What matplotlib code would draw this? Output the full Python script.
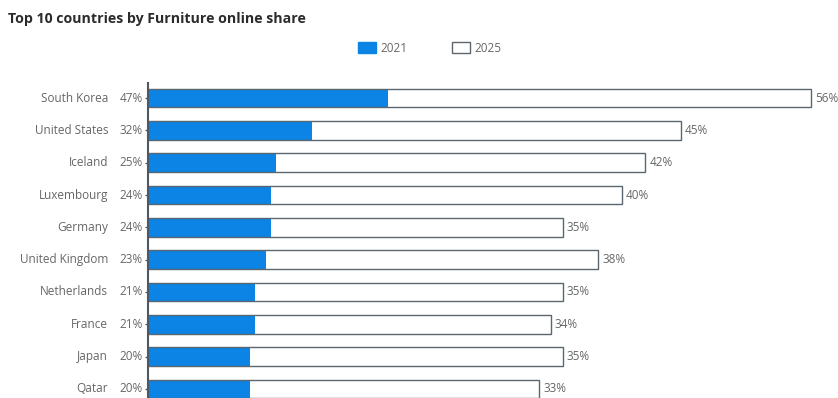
import matplotlib.pyplot as plt
from matplotlib.patches import Patch

countries = ["South Korea", "United States", "Iceland", "Luxembourg", "Germany",
             "United Kingdom", "Netherlands", "France", "Japan", "Qatar"]
share_2021 = [47, 32, 25, 24, 24, 23, 21, 21, 20, 20]
share_2025 = [56, 45, 42, 40, 35, 38, 35, 34, 35, 33]

blue = "#0b84e6"
edge = "#5b6670"
text_gray = "#666666"

plt.rcParams["font.family"] = ["Open Sans", "DejaVu Sans"]

fig = plt.figure(figsize=(8.38, 3.98), dpi=100)
rect = [148 / 838, 0.0, 687 / 838, (398 - 83) / 398]

y = list(range(len(countries)))
ylim = (9.28, -0.465)

# back layer: white 2025 bars
ax = fig.add_axes(rect)
ax.barh(y, share_2025, height=0.57, color="white", edgecolor="none")
ax.set_xlim(0, 58.0)
ax.set_ylim(*ylim)

# 2021 bars on their own scale
ax_blue = ax.twiny()
ax_blue.barh(y, share_2021, height=0.57, color=blue, edgecolor="none")
ax_blue.set_xlim(0, 134.4)

# outlines of the 2025 bars and labels on top
ax_top = ax.twiny()
ax_top.barh(y, share_2025, height=0.57, facecolor="none", edgecolor=edge, linewidth=1.0)
ax_top.set_xlim(0, 58.0)
ax_top.set_ylim(*ylim)

for a in (ax, ax_blue, ax_top):
    for s in a.spines.values():
        s.set_visible(False)
    a.set_xticks([])
ax_blue.patch.set_visible(False)
ax_top.patch.set_visible(False)

ax_top.spines["left"].set_visible(True)
ax_top.spines["left"].set_color("#4d5863")
ax_top.spines["left"].set_linewidth(1.5)

ax.set_yticks(y)
ax.set_yticklabels([f"{v}%" for v in share_2021], fontsize=8.5, color=text_gray)
ax.tick_params(axis="y", length=2.5, width=1, color="#4d5863", pad=1.5, direction="out")
for t in ax.get_yticklabels():
    t.set_va("center")

for i, name in enumerate(countries):
    ax.annotate(name, xy=(0, i), xycoords=("axes fraction", "data"),
                xytext=(-40 * 0.72, 0), textcoords="offset points",
                ha="right", va="center", fontsize=8.5, color=text_gray)

for i, v in enumerate(share_2025):
    ax_top.annotate(f"{v}%", xy=(v, i), xytext=(3, 0), textcoords="offset points",
                    ha="left", va="center", fontsize=8.5, color=text_gray)

fig.text(8 / 838, 1 - 19 / 398, "Top 10 countries by Furniture online share",
         fontsize=10.2, fontweight="bold", color="#2b2b2b", va="center", ha="left")

handles = [Patch(facecolor=blue, edgecolor=blue, label="2021"),
           Patch(facecolor="white", edgecolor="#5b6670", linewidth=1.0, label="2025")]
fig.legend(handles=handles, loc="center", bbox_to_anchor=(430 / 838, 1 - 48 / 398),
           ncol=2, frameon=False, fontsize=8.5, labelcolor=text_gray,
           handlelength=1.5, handleheight=1.0, handletextpad=0.4, columnspacing=3.75)

fig.savefig("out.png", dpi=100)
